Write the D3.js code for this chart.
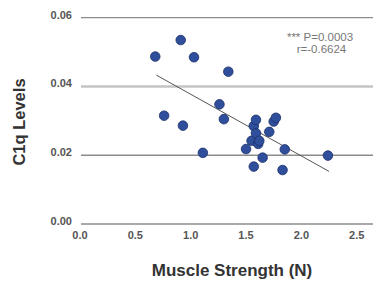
<!DOCTYPE html>
<html>
<head>
<meta charset="utf-8">
<script src="https://d3js.org/d3.v7.min.js"></script>
<style>
  body { margin: 0; background: #fff; }
  text { font-family: "Liberation Sans", Arial, sans-serif; }
</style>
</head>
<body>
<div id="chart"></div>
<script>
// muscle strength (N) vs C1q levels
const strength = [0.68, 0.91, 1.03, 1.34, 0.76, 0.93, 1.11, 1.26, 1.30, 1.50,
                  1.57, 1.59, 1.55, 1.59, 1.61, 1.62, 1.57, 1.65, 1.71, 1.75,
                  1.77, 1.85, 1.83, 2.24];
const c1q = [0.0487, 0.0535, 0.0485, 0.0443, 0.0315, 0.0286, 0.0207, 0.0348, 0.0305, 0.0218,
             0.0285, 0.0303, 0.0242, 0.0264, 0.0233, 0.0242, 0.0167, 0.0193, 0.0268, 0.0298,
             0.0309, 0.0217, 0.0157, 0.0199];
const trendX = [0.69, 2.25];
const trendY = [0.0433, 0.0153];
const xTicks = [0, 0.5, 1.0, 1.5, 2.0, 2.5];
const yTicks = [0, 0.02, 0.04, 0.06];

const W = 373, H = 282;
const svg = d3.select("#chart").append("svg")
    .attr("width", W).attr("height", H);

const x = d3.scaleLinear().domain([0, 2.5]).range([80, 356.7]);
const y = d3.scaleLinear().domain([0, 0.06]).range([224, 17.7]);

// gridlines
svg.append("g").selectAll("line")
    .data(yTicks).enter().append("line")
    .attr("x1", 81).attr("x2", W)
    .attr("y1", d => y(d)).attr("y2", d => y(d))
    .attr("stroke", d => d === 0.04 ? "#c4c4c4" : "#8c8c8c")
    .attr("stroke-width", d => d === 0.04 ? 2.4 : 1.3);

// y tick labels
svg.append("g").selectAll("text")
    .data(yTicks).enter().append("text")
    .attr("x", 72)
    .attr("y", d => y(d) - 3)
    .attr("dy", "0.35em")
    .attr("text-anchor", "end")
    .attr("font-size", "11px")
    .attr("font-weight", "bold")
    .attr("fill", "#555")
    .text(d => d3.format(".2f")(d));

// x tick labels
svg.append("g").selectAll("text")
    .data(xTicks).enter().append("text")
    .attr("x", d => x(d))
    .attr("y", 235)
    .attr("dy", "0.35em")
    .attr("text-anchor", "middle")
    .attr("font-size", "11px")
    .attr("font-weight", "bold")
    .attr("fill", "#555")
    .text(d => d3.format(".1f")(d));

// trend line
svg.append("line")
    .attr("x1", x(trendX[0])).attr("y1", y(trendY[0]))
    .attr("x2", x(trendX[1])).attr("y2", y(trendY[1]))
    .attr("stroke", "#555")
    .attr("stroke-width", 1);

// points
svg.append("g").selectAll("circle")
    .data(strength).enter().append("circle")
    .attr("cx", d => x(d))
    .attr("cy", (d, i) => y(c1q[i]))
    .attr("r", 4.8)
    .attr("fill", "#2f4e9c")
    .attr("stroke", "#1d3168")
    .attr("stroke-width", 0.8);

// stats
svg.append("text")
    .attr("x", 320).attr("y", 37).attr("dy", "0.35em")
    .attr("text-anchor", "middle")
    .attr("font-size", "11.5px").attr("fill", "#777")
    .text("***  P=0.0003");
svg.append("text")
    .attr("x", 321.5).attr("y", 48.5).attr("dy", "0.35em")
    .attr("text-anchor", "middle")
    .attr("font-size", "11.5px").attr("fill", "#777")
    .text("r=-0.6624");

// axis titles
svg.append("text")
    .attr("x", 232).attr("y", 270).attr("dy", "0.35em")
    .attr("text-anchor", "middle")
    .attr("font-size", "17px").attr("font-weight", "bold")
    .attr("fill", "#333")
    .text("Muscle Strength (N)");

svg.append("text")
    .attr("transform", "translate(19,122) rotate(-90)")
    .attr("dy", "0.35em")
    .attr("text-anchor", "middle")
    .attr("font-size", "16.5px").attr("font-weight", "bold")
    .attr("fill", "#333")
    .text("C1q Levels");
</script>
</body>
</html>
